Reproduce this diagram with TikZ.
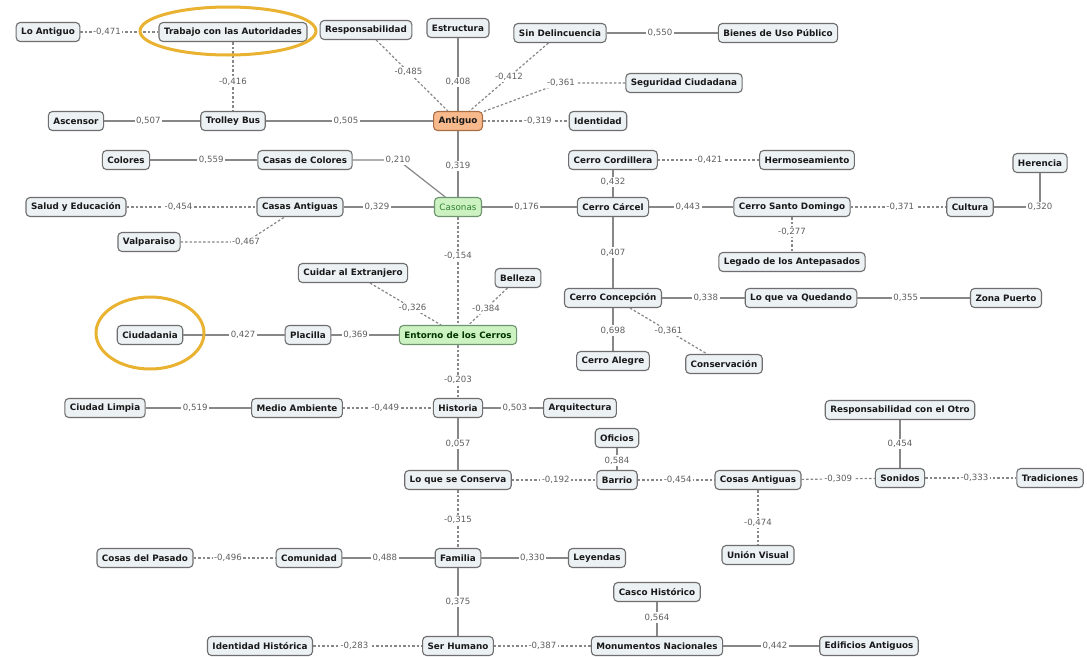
\documentclass[tikz,border=0pt]{standalone}
\usepackage{fontspec}
\setmainfont{DejaVu Sans}
\definecolor{boxfill}{RGB}{236,241,244}
\definecolor{boxdraw}{RGB}{110,110,110}
\definecolor{edgegray}{RGB}{135,135,135}
\definecolor{lblgray}{RGB}{95,95,95}
\definecolor{antfill}{RGB}{248,186,140}
\definecolor{antdraw}{RGB}{170,110,70}
\definecolor{grfill}{RGB}{204,242,194}
\definecolor{grdraw}{RGB}{110,150,110}
\definecolor{grtext}{RGB}{50,130,50}
\definecolor{hlorange}{RGB}{233,178,48}
\tikzset{
  box/.style={draw=boxdraw, line width=1.1pt, rounded corners=4pt, fill=boxfill,
    font=\fontsize{8.8}{10}\selectfont\bfseries, text=black!90,
    inner xsep=5pt, inner ysep=0pt, minimum height=19pt},
  antbox/.style={box, fill=antfill, draw=antdraw},
  grbox/.style={box, fill=grfill, draw=grdraw},
  lbl/.style={fill=white, inner sep=1.5pt, font=\fontsize{8.6}{10}\selectfont, text=lblgray},
  sol/.style={draw=edgegray, line width=1.2pt},
  dsh/.style={draw=edgegray, line width=1.2pt, dash pattern=on 2.5pt off 2pt},
  hl/.style={draw=hlorange, line width=3pt},
}
\begin{document}
\begin{tikzpicture}[x=1pt,y=-1pt]
\useasboundingbox[fill=white] (0,0) rectangle (1087,656);
% nodes
\node[box] (loant) at (48,32) {Lo Antiguo};
\node[box] (trabajo) at (233,32) {Trabajo con las Autoridades};
\node[box] (resp) at (366,30) {Responsabilidad};
\node[box] (estr) at (458,28) {Estructura};
\node[box] (sindel) at (560,33) {Sin Delincuencia};
\node[box] (bienes) at (778,33) {Bienes de Uso Público};
\node[box] (seg) at (684,83) {Seguridad Ciudadana};
\node[box] (ascensor) at (76,121) {Ascensor};
\node[box] (trolley) at (233,121) {Trolley Bus};
\node[antbox] (antiguo) at (458,121) {Antiguo};
\node[box] (ident) at (598,121) {Identidad};
\node[box] (colores) at (126,160) {Colores};
\node[box] (csc) at (305,160) {Casas de Colores};
\node[box] (cordillera) at (613,160) {Cerro Cordillera};
\node[box] (hermo) at (807,160) {Hermoseamiento};
\node[box] (herencia) at (1040,163) {Herencia};
\node[box] (salud) at (76,207) {Salud y Educación};
\node[box] (cantiguas) at (300,207) {Casas Antiguas};
\node[grbox, font=\fontsize{8.8}{10}\selectfont, text=grtext] (casonas) at (458,207) {Casonas};
\node[box] (carcel) at (613,207) {Cerro Cárcel};
\node[box] (sdomingo) at (792,207) {Cerro Santo Domingo};
\node[box] (cultura) at (970,207) {Cultura};
\node[box] (valpo) at (149,242) {Valparaiso};
\node[box] (legado) at (792,262) {Legado de los Antepasados};
\node[box] (cuidar) at (353,273) {Cuidar al Extranjero};
\node[box] (belleza) at (518,278) {Belleza};
\node[box] (concep) at (613,298) {Cerro Concepción};
\node[box] (loqueva) at (801,298) {Lo que va Quedando};
\node[box] (zona) at (1006,298) {Zona Puerto};
\node[box] (ciudadania) at (150,335) {Ciudadania};
\node[box] (placilla) at (308,335) {Placilla};
\node[grbox, text=black!80!green] (entorno) at (458,335) {Entorno de los Cerros};
\node[box] (alegre) at (613,361) {Cerro Alegre};
\node[box] (conserv) at (724,364) {Conservación};
\node[box] (climpia) at (105,408) {Ciudad Limpia};
\node[box] (medio) at (297,408) {Medio Ambiente};
\node[box] (historia) at (458,408) {Historia};
\node[box] (arqui) at (580,408) {Arquitectura};
\node[box] (respotro) at (900,410) {Responsabilidad con el Otro};
\node[box] (oficios) at (617,438) {Oficios};
\node[box] (conserva) at (458,480) {Lo que se Conserva};
\node[box] (barrio) at (617,480) {Barrio};
\node[box] (cosasant) at (758,480) {Cosas Antiguas};
\node[box] (sonidos) at (900,478) {Sonidos};
\node[box] (tradic) at (1050,478) {Tradiciones};
\node[box] (union) at (758,555) {Unión Visual};
\node[box] (cpasado) at (145,558) {Cosas del Pasado};
\node[box] (comunidad) at (309,558) {Comunidad};
\node[box] (familia) at (458,558) {Familia};
\node[box] (leyendas) at (597,558) {Leyendas};
\node[box] (casco) at (657,592) {Casco Histórico};
\node[box] (ihist) at (260,646) {Identidad Histórica};
\node[box] (serh) at (458,646) {Ser Humano};
\node[box] (monum) at (657,646) {Monumentos Nacionales};
\node[box] (edif) at (869,646) {Edificios Antiguos};
% bend points
\coordinate (b1) at (561,83);
\coordinate (b2) at (398,160);
\coordinate (b3) at (246,242);
\coordinate (b4) at (1040,207);
% connectors
\draw[dsh] (loant) -- node[lbl,pos=0.34]{-0,471} (trabajo);
\draw[dsh] (trabajo) -- node[lbl,pos=0.57]{-0,416} (trolley);
\draw[sol] (ascensor) -- node[lbl,pos=0.46]{0,507} (trolley);
\draw[sol] (trolley) -- node[lbl,pos=0.48]{0,505} (antiguo);
\draw[dsh] (resp) -- node[lbl,pos=0.45]{-0,485} (antiguo);
\draw[sol] (estr) -- node[lbl,pos=0.6]{0,408} (antiguo);
\draw[dsh] (sindel) -- node[lbl,pos=0.5]{-0,412} (antiguo);
\draw[sol] (sindel) -- node[lbl,pos=0.48]{0,550} (bienes);
\draw[dsh] (seg) -- (b1) node[lbl]{-0,361} -- (antiguo);
\draw[dsh] (antiguo) -- node[lbl,pos=0.64]{-0,319} (ident);
\draw[sol] (colores) -- node[lbl,pos=0.57]{0,559} (csc);
\draw[sol] (csc) -- (b2) node[lbl]{0,210} -- (casonas);
\draw[sol] (antiguo) -- node[lbl,pos=0.53]{0,319} (casonas);
\draw[dsh] (salud) -- node[lbl,pos=0.4]{-0,454} (cantiguas);
\draw[sol] (cantiguas) -- node[lbl,pos=0.37]{0,329} (casonas);
\draw[dsh] (valpo) -- (b3) node[lbl]{-0,467} -- (cantiguas);
\draw[sol] (casonas) -- node[lbl,pos=0.47]{0,176} (carcel);
\draw[sol] (cordillera) -- node[lbl,pos=0.45]{0,432} (carcel);
\draw[dsh] (cordillera) -- node[lbl,pos=0.5]{-0,421} (hermo);
\draw[sol] (carcel) -- node[lbl,pos=0.46]{0,443} (sdomingo);
\draw[dsh] (sdomingo) -- node[lbl,pos=0.52]{-0,371} (cultura);
\draw[sol] (cultura) -- (b4) node[lbl]{0,320} -- (herencia);
\draw[dsh] (sdomingo) -- node[lbl,pos=0.43]{-0,277} (legado);
\draw[sol] (carcel) -- node[lbl,pos=0.5]{0,407} (concep);
\draw[dsh] (casonas) -- node[lbl,pos=0.36]{-0,154} (entorno);
\draw[sol] (concep) -- node[lbl,pos=0.53]{0,338} (loqueva);
\draw[sol] (loqueva) -- node[lbl,pos=0.43]{0,355} (zona);
\draw[sol] (concep) -- node[lbl,pos=0.52]{0,698} (alegre);
\draw[dsh] (concep) -- node[lbl,pos=0.5]{-0,361} (conserv);
\draw[dsh] (cuidar) -- node[lbl,pos=0.6]{-0,326} (entorno);
\draw[dsh] (belleza) -- node[lbl,pos=0.55]{-0,384} (entorno);
\draw[sol] (ciudadania) -- node[lbl,pos=0.59]{0,427} (placilla);
\draw[sol] (placilla) -- node[lbl,pos=0.36]{0,369} (entorno);
\draw[dsh] (entorno) -- node[lbl,pos=0.66]{-0,203} (historia);
\draw[sol] (climpia) -- node[lbl,pos=0.47]{0,519} (medio);
\draw[dsh] (medio) -- node[lbl,pos=0.47]{-0,449} (historia);
\draw[sol] (historia) -- node[lbl,pos=0.53]{0,503} (arqui);
\draw[sol] (historia) -- node[lbl,pos=0.5]{0,057} (conserva);
\draw[dsh] (conserva) -- node[lbl,pos=0.52]{-0,192} (barrio);
\draw[sol] (oficios) -- node[lbl,pos=0.56]{0,584} (barrio);
\draw[dsh] (barrio) -- node[lbl,pos=0.52]{-0,454} (cosasant);
\draw[dsh] (cosasant) -- node[lbl,pos=0.5]{-0,309} (sonidos);
\draw[sol] (respotro) -- node[lbl,pos=0.5]{0,454} (sonidos);
\draw[dsh] (sonidos) -- node[lbl,pos=0.54]{-0,333} (tradic);
\draw[dsh] (cosasant) -- node[lbl,pos=0.6]{-0,474} (union);
\draw[dsh] (conserva) -- node[lbl,pos=0.52]{-0,315} (familia);
\draw[dsh] (cpasado) -- node[lbl,pos=0.42]{-0,496} (comunidad);
\draw[sol] (comunidad) -- node[lbl,pos=0.46]{0,488} (familia);
\draw[sol] (familia) -- node[lbl,pos=0.59]{0,330} (leyendas);
\draw[sol] (familia) -- node[lbl,pos=0.49]{0,375} (serh);
\draw[dsh] (ihist) -- node[lbl,pos=0.38]{-0,283} (serh);
\draw[dsh] (serh) -- node[lbl,pos=0.5]{-0,387} (monum);
\draw[sol] (casco) -- node[lbl,pos=0.45]{0,564} (monum);
\draw[sol] (monum) -- node[lbl,pos=0.54]{0,442} (edif);
% highlights
\draw[hl] (228,31) ellipse [x radius=88pt, y radius=24pt];
\draw[hl] (150,333) ellipse [x radius=54pt, y radius=36pt];
\end{tikzpicture}
\end{document}
